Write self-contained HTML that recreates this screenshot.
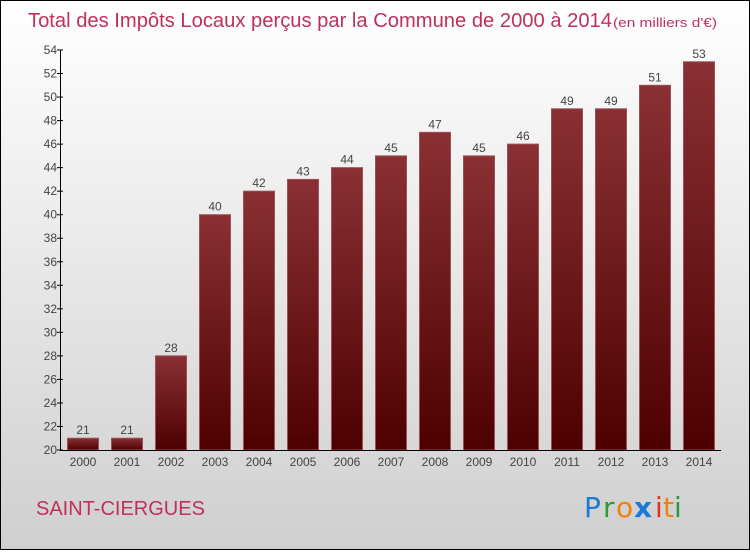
<!DOCTYPE html>
<html><head><meta charset="utf-8"><style>
html,body{margin:0;padding:0}
body{width:750px;height:550px;overflow:hidden}
</style></head><body>
<svg width="750" height="550" xmlns="http://www.w3.org/2000/svg" font-family="Liberation Sans, sans-serif">
<defs>
<linearGradient id="bg" x1="0" y1="0" x2="0" y2="1"><stop offset="0" stop-color="#ffffff"/><stop offset="1" stop-color="#cfcfcf"/></linearGradient>
<linearGradient id="bar" x1="0" y1="0" x2="0" y2="1"><stop offset="0" stop-color="#8a3034"/><stop offset="1" stop-color="#4e0000"/></linearGradient>
</defs>
<rect x="0.5" y="0.5" width="749" height="549" fill="url(#bg)" stroke="#000"/>
<text x="28" y="27" font-size="20" fill="#c0305a" textLength="584" lengthAdjust="spacingAndGlyphs">Total des Impôts Locaux perçus par la Commune de 2000 à 2014</text>
<text x="613" y="27" font-size="13" fill="#c0305a" textLength="104" lengthAdjust="spacingAndGlyphs">(en milliers d'€)</text>
<g id="bars"></g>
<line x1="60.5" y1="50" x2="60.5" y2="450" stroke="#000"/>
<line x1="60" y1="450.5" x2="721" y2="450.5" stroke="#000"/>
<g id="ticks" font-size="12" fill="#444" text-anchor="end"></g>
<text x="36" y="515" font-size="20" fill="#c0305a">SAINT-CIERGUES</text>
<g font-size="28" font-family="DejaVu Sans, sans-serif">
<text x="584" y="517" fill="#1a7ad4">P</text><text x="603" y="517" fill="#2a9a3a">r</text><text x="616" y="517" fill="#f08010">o</text><text x="634" y="517" fill="#1a7ad4" font-weight="bold">x</text><text x="655" y="517" fill="#e03020">i</text><text x="663" y="517" fill="#f08010">t</text><text x="674" y="517" fill="#2a9a3a">i</text>
</g>
<script>
var v=[21,21,28,40,42,43,44,45,47,45,46,49,49,51,53];
var ns="http://www.w3.org/2000/svg";
function y(d){return 450-(d-20)*400/34;}
var b=document.getElementById('bars'),t=document.getElementById('ticks');
function el(p,n,a,tx){var e=document.createElementNS(ns,n);for(var k in a)e.setAttribute(k,a[k]);if(tx)e.textContent=tx;p.appendChild(e);return e;}
for(var i=0;i<15;i++){var cx=83+44*i,yy=y(v[i]);
el(b,'rect',{x:cx-15.5,y:yy,width:31,height:450-yy,fill:'url(#bar)',stroke:'#9a5055','stroke-width':1});
el(b,'text',{x:cx,y:yy-4,'font-size':12,fill:'#444','text-anchor':'middle'},String(v[i]));
el(b,'text',{x:cx,y:466,'font-size':12,fill:'#444','text-anchor':'middle'},String(2000+i));}
for(var d=20;d<=54;d+=2){var yy=y(d);el(t,'text',{x:57,y:yy+4},String(d));el(t,'line',{x1:57,y1:yy,x2:63,y2:yy,stroke:'#000'});}
</script>
</svg>
</body></html>
